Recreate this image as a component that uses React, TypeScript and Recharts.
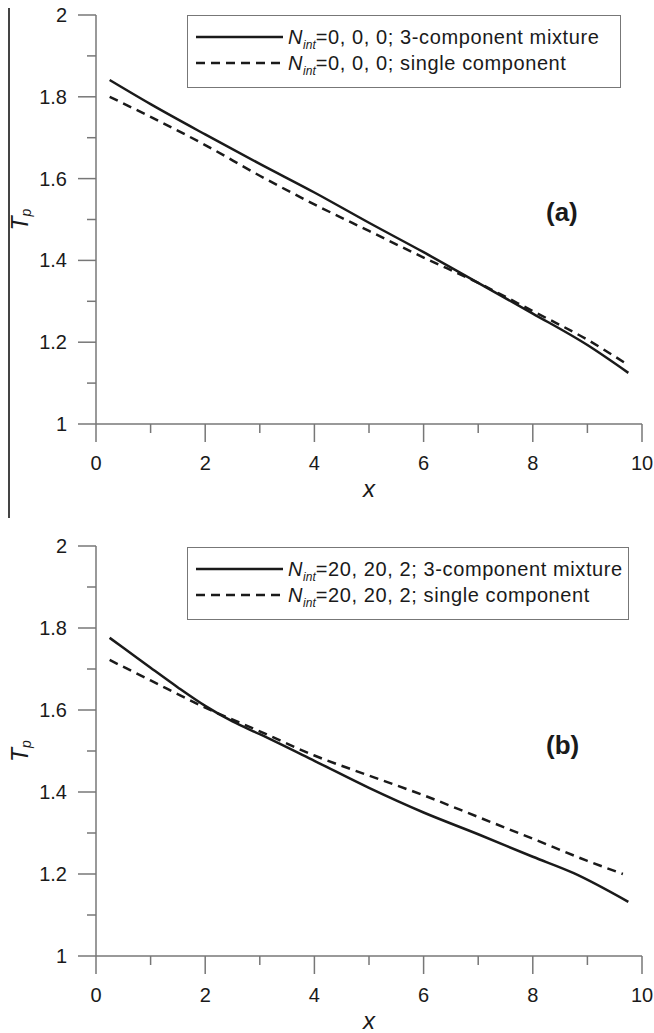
import { LineChart, Line, XAxis, YAxis, Legend } from 'recharts';

// x positions along the duct, and particle temperature T_p
const xTicks = [0, 1, 2, 3, 4, 5, 6, 7, 8, 9, 10];
const yTicks = [1, 1.1, 1.2, 1.3, 1.4, 1.5, 1.6, 1.7, 1.8, 1.9, 2];

// panel (a): N_int = 0, 0, 0
const aMixX = [0.25, 1, 2, 3, 4, 5, 6, 7, 8, 9, 9.75];
const aMixT = [1.841, 1.782, 1.708, 1.636, 1.566, 1.492, 1.42, 1.345, 1.27, 1.193, 1.125];
const aSingleX = [0.25, 1, 2, 3, 4, 5, 6, 7, 8, 9, 9.75];
const aSingleT = [1.8, 1.751, 1.682, 1.607, 1.537, 1.472, 1.407, 1.345, 1.276, 1.206, 1.144];

// panel (b): N_int = 20, 20, 2
const bMixX = [0.25, 0.5, 1, 1.5, 2, 2.5, 3, 4, 5, 6, 7, 8, 8.75, 9.75];
const bMixT = [1.776, 1.752, 1.703, 1.655, 1.61, 1.572, 1.541, 1.476, 1.41, 1.35, 1.297, 1.242, 1.202, 1.132];
const bSingleX = [0.25, 1, 2, 3, 4, 5, 6, 7, 8, 9, 9.65];
const bSingleT = [1.722, 1.672, 1.606, 1.548, 1.489, 1.44, 1.392, 1.339, 1.286, 1.232, 1.2];

const aLabels = ['=0, 0, 0; 3-component mixture', '=0, 0, 0; single component'];
const bLabels = ['=20, 20, 2; 3-component mixture', '=20, 20, 2; single component'];

const FONT = '"Liberation Sans", Arial, sans-serif';
const AXIS = '#777';
const INK = '#1a1a1a';
const DASH = '9 6';

const toPoints = (xs: number[], ts: number[]) => xs.map((x, i) => ({ x, t: ts[i] }));

const XTick = (p: any) => {
  const v = p.payload.value;
  const major = v % 2 === 0;
  return (
    <g>
      <line x1={p.x} x2={p.x} y1={p.y} y2={p.y + (major ? 18 : 9)} stroke={AXIS} strokeWidth={1.5} />
      {major && (
        <text x={p.x} y={p.y + 46} textAnchor="middle" fontFamily={FONT} fontSize={20} fill={INK}>
          {v}
        </text>
      )}
    </g>
  );
};

const YTick = (p: any) => {
  const v = p.payload.value;
  const major = Math.round(v * 10) % 2 === 0;
  return (
    <g>
      <line x1={p.x - (major ? 18 : 9)} x2={p.x} y1={p.y} y2={p.y} stroke={AXIS} strokeWidth={1.5} />
      {major && (
        <text x={p.x - 29} y={p.y + 7} textAnchor="end" fontFamily={FONT} fontSize={20} fill={INK}>
          {String(v)}
        </text>
      )}
    </g>
  );
};

const TpLabel = (p: any) => {
  const vb = p.viewBox;
  const cy = vb.y + vb.height / 2;
  return (
    <text
      x={20}
      y={cy}
      transform={`rotate(-90, 20, ${cy})`}
      textAnchor="middle"
      dominantBaseline="central"
      fontFamily={FONT}
      fontStyle="italic"
      fontSize={23}
      fill={INK}
    >
      T<tspan fontSize={14} dy={6}>p</tspan>
    </text>
  );
};

const XLabel = (p: any) => {
  const vb = p.viewBox;
  return (
    <text x={vb.x + vb.width / 2} y={vb.y + 73} textAnchor="middle" fontFamily={FONT} fontStyle="italic" fontSize={24} fill={INK}>
      x
    </text>
  );
};

const LegendBox = ({ labels, width }: { labels: string[]; width: number }) => (
  <div
    style={{
      width,
      height: 73,
      boxSizing: 'border-box',
      border: `1.5px solid ${AXIS}`,
      background: '#fff',
      fontFamily: FONT,
      fontSize: 20,
      letterSpacing: 0.6,
      color: INK,
      paddingTop: 8,
    }}
  >
    {labels.map((lab, i) => (
      <div key={lab} style={{ display: 'flex', alignItems: 'center', height: 26 }}>
        <svg width={100} height={10} style={{ flex: 'none' }}>
          <line x1={8} x2={95} y1={5} y2={5} stroke={INK} strokeWidth={2.5} strokeDasharray={i === 1 ? DASH : undefined} />
        </svg>
        <span style={{ whiteSpace: 'nowrap', lineHeight: '26px' }}>
          <i>N</i>
          <sub style={{ fontSize: 12, fontStyle: 'italic', lineHeight: 0, letterSpacing: 0 }}>int</sub>
          {lab}
        </span>
      </div>
    ))}
  </div>
);

interface PanelProps {
  top: number;
  marginTop: number;
  axisHeight: number;
  mix: { x: number; t: number }[];
  single: { x: number; t: number }[];
  labels: string[];
  legendTop: number;
  legendWidth: number;
  tag: string;
  tagTop: number;
}

const Panel = ({ top, marginTop, axisHeight, mix, single, labels, legendTop, legendWidth, tag, tagTop }: PanelProps) => (
  <div style={{ position: 'absolute', left: 0, top, width: 654, height: 517 }}>
    <LineChart width={654} height={517} margin={{ top: marginTop, right: 12, left: 0, bottom: 0 }}>
      <XAxis
        type="number"
        dataKey="x"
        domain={[0, 10]}
        ticks={xTicks}
        interval={0}
        allowDataOverflow
        height={axisHeight}
        tickSize={0}
        tickMargin={0}
        tickLine={false}
        tick={<XTick />}
        axisLine={{ stroke: AXIS, strokeWidth: 1.5 }}
        label={<XLabel />}
      />
      <YAxis
        type="number"
        dataKey="t"
        domain={[1, 2]}
        ticks={yTicks}
        interval={0}
        allowDataOverflow
        width={96}
        tickSize={0}
        tickMargin={0}
        tickLine={false}
        tick={<YTick />}
        axisLine={{ stroke: AXIS, strokeWidth: 1.5 }}
        label={<TpLabel />}
      />
      <Legend
        layout="horizontal"
        verticalAlign="middle"
        wrapperStyle={{ top: legendTop, left: 187, width: legendWidth }}
        content={() => <LegendBox labels={labels} width={legendWidth} />}
      />
      <Line data={mix} dataKey="t" type="monotone" stroke={INK} strokeWidth={2.5} dot={false} isAnimationActive={false} />
      <Line
        data={single}
        dataKey="t"
        type="monotone"
        stroke={INK}
        strokeWidth={2.5}
        strokeDasharray={DASH}
        dot={false}
        isAnimationActive={false}
      />
    </LineChart>
    <div
      style={{
        position: 'absolute',
        left: 546,
        top: tagTop,
        fontFamily: FONT,
        fontWeight: 'bold',
        fontSize: 26,
        lineHeight: '30px',
        color: INK,
      }}
    >
      {tag}
    </div>
  </div>
);

const App = () => (
  <div style={{ position: 'absolute', left: 0, top: 0, width: 654, height: 1033, background: '#fff' }}>
    <div style={{ position: 'absolute', left: 8, top: 8, width: 1.5, height: 510, background: '#444' }} />
    <Panel
      top={0}
      marginTop={15}
      axisHeight={93}
      mix={toPoints(aMixX, aMixT)}
      single={toPoints(aSingleX, aSingleT)}
      labels={aLabels}
      legendTop={15}
      legendWidth={434}
      tag="(a)"
      tagTop={197}
    />
    <Panel
      top={516}
      marginTop={30}
      axisHeight={77}
      mix={toPoints(bMixX, bMixT)}
      single={toPoints(bSingleX, bSingleT)}
      labels={bLabels}
      legendTop={31}
      legendWidth={442}
      tag="(b)"
      tagTop={214}
    />
  </div>
);

export default App;
